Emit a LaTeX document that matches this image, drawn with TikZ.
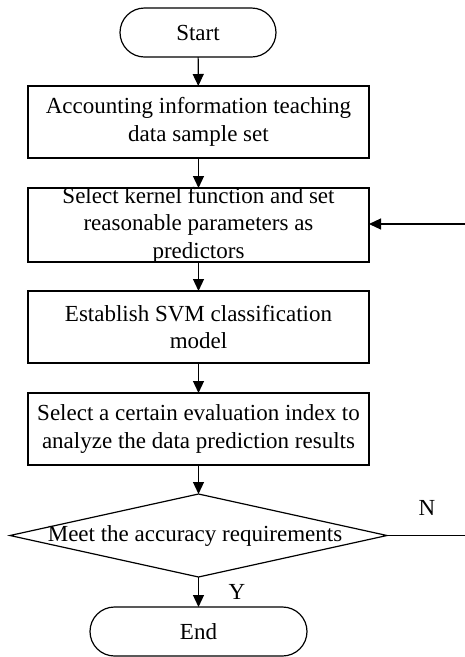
\documentclass[tikz,border=0pt]{standalone}
\usepackage{fontspec}
\setmainfont{Liberation Serif}
\usetikzlibrary{arrows.meta,shapes.geometric}
\begin{document}
\begin{tikzpicture}[x=1pt,y=-1pt,
  line width=1.2pt,
  every node/.style={inner sep=0pt, outer sep=0pt},
  term/.style={draw, rectangle, rounded corners=24.5pt, minimum height=49pt},
  proc/.style={draw, rectangle, minimum width=341pt},
  dec/.style={draw, diamond, minimum width=377pt, minimum height=83pt},
  txt/.style={font=\fontsize{23}{27.5}\selectfont, align=center},
  lbl/.style={font=\fontsize{23}{27.5}\selectfont},
  arr/.style={-{Triangle[length=12pt,width=11pt]}},
]
\useasboundingbox (0,0) rectangle (465,657);

\node[term, minimum width=156pt] (start) at (198,32.5) {};
\node[txt] (tstart) at (start.center) {Start};

\node[proc, minimum height=72pt] (b1) at (198.5,122) {};
\node[txt] (t1) at (b1.center) {Accounting information teaching\\data sample set};

\node[proc, minimum height=74pt] (b2) at (198.5,225) {};
\node[txt] (t2) at (b2.center) {Select kernel function and set\\reasonable parameters as\\predictors};

\node[proc, minimum height=72pt] (b3) at (198.5,327) {};
\node[txt] (t3) at (b3.center) {Establish SVM classification\\model};

\node[proc, minimum height=72pt] (b4) at (198.5,429) {};
\node[txt] (t4) at (b4.center) {Select a certain evaluation index to\\analyze the data prediction results};

\node[dec] (d) at (198.5,535.5) {};
\node[txt] (td) at (195,535.5) {Meet the accuracy requirements};

\node[term, minimum width=217pt] (end) at (198.5,631.5) {};
\node[txt] (tend) at (end.center) {End};

\coordinate (nout) at (465,535.5);
\coordinate (nin) at (465,224);

\draw[arr] (start) -- (b1);
\draw[arr] (b1) -- (b2);
\draw[arr] (b2) -- (b3);
\draw[arr] (b3) -- (b4);
\draw[arr] (b4) -- (d);
\draw[arr] (d) -- (end);
\draw (d.east) -- (nout);
\draw[arr] (nin) -- (b2.east |- nin);

\node[lbl] (N) at (427,508) {N};
\node[lbl] (Y) at (237,592) {Y};
\end{tikzpicture}
\end{document}
